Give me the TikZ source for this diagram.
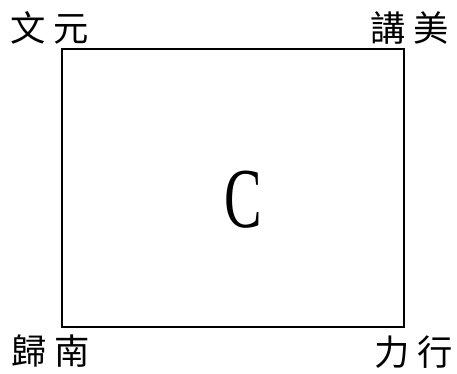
\documentclass[tikz,border=0pt]{standalone}
\usepackage{fontspec}
\setmainfont{Liberation Serif}
\newfontfamily\cjk{Noto Sans CJK TC}
\usetikzlibrary{positioning}

\tikzset{
  corner label/.style={font=\cjk\fontsize{26.5}{26.5}\selectfont, inner sep=0pt},
  board/.style={draw, line width=1.4pt, minimum width=256.5pt, minimum height=208.5pt, inner sep=0pt}
}

\begin{document}
\begin{tikzpicture}[x=0.75pt, y=-0.75pt]

  % ==================== frame ====================
  \useasboundingbox (0,0) rectangle (457,374);
  \node[board] (frame) at (233,188) {};

  % ==================== centre letter ====================
  \node[font=\fontsize{64}{64}\selectfont, inner sep=0pt] (letter) at (243.5,199.5) {\scalebox{0.66}[1]{C}};

  % ==================== corner labels ====================
  \node[corner label] (wenyuan) at (50,28)  {文\hspace{6pt}元};
  \node[corner label] (jiangmei) at (410,28) {講\hspace{6pt}美};
  \node[corner label] (guinan) at (51,351)  {歸\hspace{6pt}南};
  \node[corner label] (lixing) at (414,352) {力\hspace{6pt}行};

\end{tikzpicture}
\end{document}
